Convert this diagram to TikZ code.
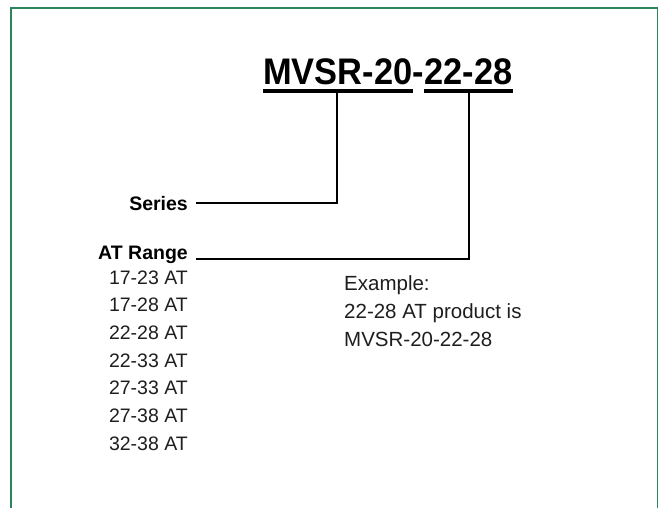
\documentclass[tikz,border=0pt]{standalone}
\usepackage{fontspec}
\setmainfont{Liberation Sans}
\newfontfamily\condfont[FakeStretch=0.93]{Liberation Sans}
\definecolor{framegreen}{RGB}{45,133,92}
\definecolor{inkgray}{RGB}{30,30,30}
\tikzset{
  codepart/.style={inner sep=0pt, anchor=base west, font=\condfont\bfseries\fontsize{37}{40}\selectfont},
  tag/.style={inner sep=3pt, anchor=base east, font=\bfseries\fontsize{19.5}{24}\selectfont},
  rangeitem/.style={inner sep=0pt, anchor=base east, text=inkgray, font=\fontsize{19.5}{24}\selectfont},
  note/.style={inner sep=0pt, anchor=base west, align=left, text=inkgray, font=\fontsize{20.5}{27.6}\selectfont},
  bar/.style={line width=4pt},
  lead/.style={line width=2pt},
}
\begin{document}
\begin{tikzpicture}[x=1pt,y=-1pt]
    \useasboundingbox (0,0) rectangle (658,508);
    % frame
    \draw [framegreen, line width=1.5pt] (11,508) -- (11,8) -- (657.5,8) -- (657.5,508);
    % model code
    \node [codepart] (code1) at (263,85) {MVSR-20};
    \node [codepart] (dash) at (code1.base east) {-};
    \node [codepart] (code2) at (dash.base east) {22-28};
    \draw [bar] ([yshift=-6pt]code1.base west) -- ([yshift=-6pt]code1.base east);
    \draw [bar] ([yshift=-6pt]code2.base west) -- ([yshift=-6pt]code2.base east);
    \coordinate (tap1) at (337,93);
    \coordinate (tap2) at (469,93);
    % labels
    \node [tag] (series) at (191,210) {Series};
    \node [tag] (range) at (191,259) {AT Range};
    \draw [lead] ([xshift=5pt]series.east) -| (tap1);
    \draw [lead] ([xshift=5pt]range.base east) -| (tap2);
    % ranges
    \foreach \r [count=\i from 0] in {17-23,17-28,22-28,22-33,27-33,27-38,32-38}
        \node [rangeitem] (item\i) at (188,284+27.7*\i) {\r{} AT};
    % example
    \node [note] (example) at (344,346) {Example:\\22-28 AT product is\\MVSR-20-22-28};
\end{tikzpicture}
\end{document}
